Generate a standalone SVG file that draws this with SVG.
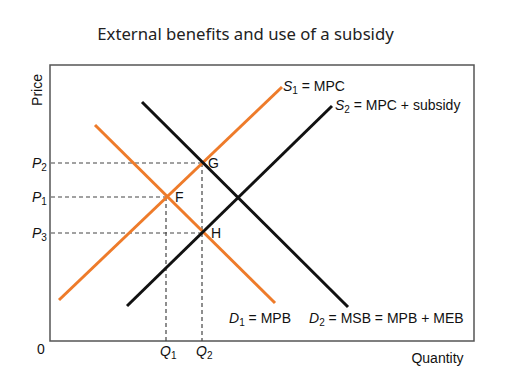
<svg xmlns="http://www.w3.org/2000/svg" width="507" height="392" viewBox="0 0 507 392">
<style>
  .t { font-family: "Liberation Sans", Arial, sans-serif; font-size: 14px; fill: #111; }
  .it { font-style: italic; }
  .sub { font-size: 10px; }
  .title { font-family: "Noto Sans", "Open Sans", sans-serif; font-size: 16.7px; fill: #222; }
  .curve { fill: none; stroke-width: 3; stroke-linecap: butt; }
  .orange { stroke: #EE7B2A; }
  .black { stroke: #111; }
  .dash { fill: none; stroke: #444; stroke-width: 1.2; stroke-dasharray: 4 3; }
</style>
<rect width="507" height="392" fill="#fff"/>
<text class="title" x="245.5" y="40" text-anchor="middle">External benefits and use of a subsidy</text>

<g id="axes">
  <rect x="50" y="65" width="424" height="276" fill="none" stroke="#555" stroke-width="1.5"/>
  <text class="t" transform="translate(42,90) rotate(-90)" text-anchor="middle">Price</text>
  <text class="t" x="437.5" y="363" text-anchor="middle">Quantity</text>
  <text class="t" x="37" y="354">0</text>
</g>

<g id="guides">
  <path class="dash" d="M51,163 H202 M51,197 H166 M51,233 H202 M166,197 V341 M202,163 V341"/>
</g>

<g id="connectors">
  <line id="S1" class="curve orange" x1="59" y1="300" x2="282" y2="87"/>
  <line id="D1" class="curve orange" x1="95" y1="125" x2="275" y2="303"/>
  <line id="D2" class="curve black" x1="142" y1="102" x2="348" y2="307"/>
  <line id="S2" class="curve black" x1="127" y1="306" x2="332" y2="106"/>
</g>

<g id="labels">
  <text class="t" x="283" y="91"><tspan class="it">S</tspan><tspan class="sub" dy="3">1</tspan><tspan dy="-3"> = MPC</tspan></text>
  <text class="t" x="335" y="110"><tspan class="it">S</tspan><tspan class="sub" dy="3">2</tspan><tspan dy="-3"> = MPC + subsidy</tspan></text>
  <text class="t" x="229" y="323"><tspan class="it">D</tspan><tspan class="sub" dy="3">1</tspan><tspan dy="-3"> = MPB</tspan></text>
  <text class="t" x="309" y="323"><tspan class="it">D</tspan><tspan class="sub" dy="3">2</tspan><tspan dy="-3"> = MSB = MPB + MEB</tspan></text>
  <text class="t" x="32" y="168"><tspan class="it">P</tspan><tspan class="sub" dy="3">2</tspan></text>
  <text class="t" x="32" y="202"><tspan class="it">P</tspan><tspan class="sub" dy="3">1</tspan></text>
  <text class="t" x="32" y="238"><tspan class="it">P</tspan><tspan class="sub" dy="3">3</tspan></text>
  <text class="t" x="160" y="356"><tspan class="it">Q</tspan><tspan class="sub" dy="3">1</tspan></text>
  <text class="t" x="196" y="356"><tspan class="it">Q</tspan><tspan class="sub" dy="3">2</tspan></text>
  <text class="t" x="208" y="168">G</text>
  <text class="t" x="175" y="202">F</text>
  <text class="t" x="211" y="238">H</text>
</g>
</svg>
